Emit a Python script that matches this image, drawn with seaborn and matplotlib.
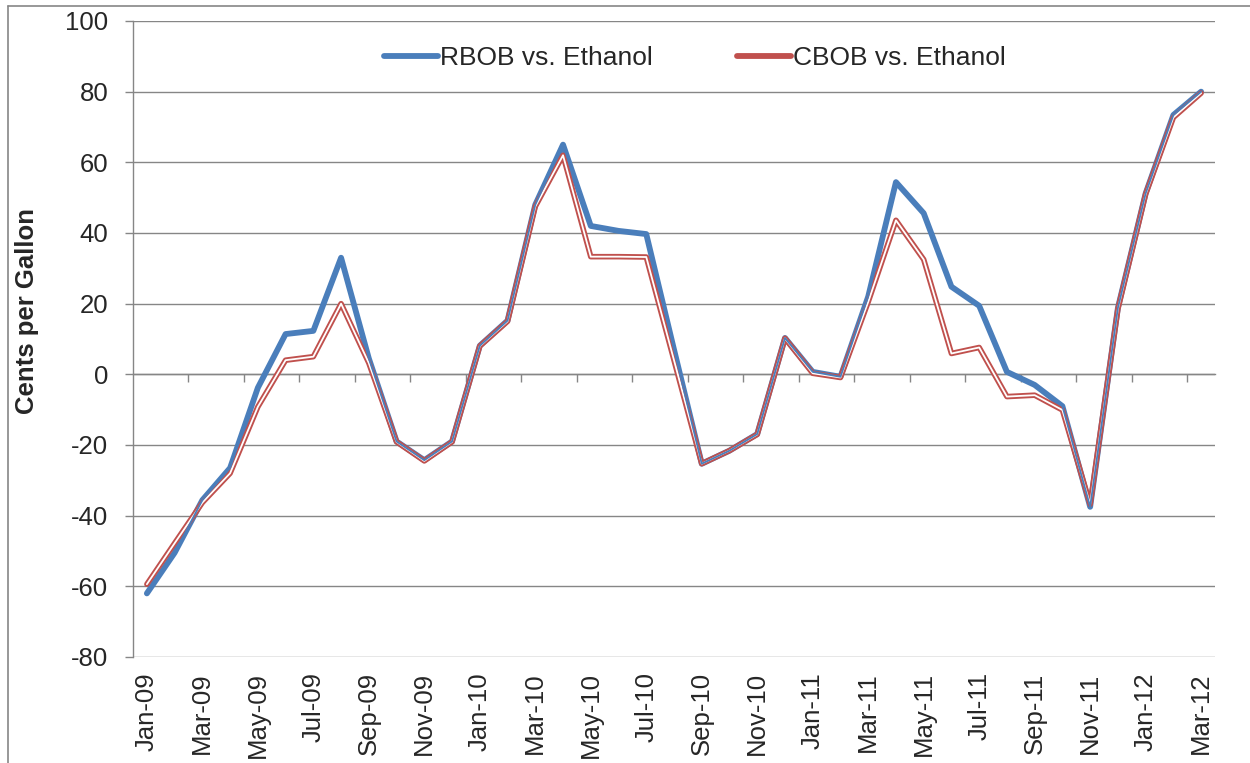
import numpy as np
import pandas as pd
import matplotlib.pyplot as plt
import seaborn as sns
from matplotlib.lines import Line2D

# monthly spreads, cents per gallon
months = pd.date_range('2009-01-01', '2012-03-01', freq='MS').strftime('%b-%y').tolist()
rbob = [-62, -50.5, -35.6, -26.5, -3.8, 11.4, 12.3, 33, 4.5, -19, -24.3, -19,
        8.1, 15.2, 48, 65, 42, 40.6, 39.7, 7, -25.3, -21.6, -16.9, 10.3,
        0.7, -0.7, 22, 54.4, 45.6, 24.8, 19.4, 0.7, -3, -9, -37.5, 18.8,
        51.2, 73.4, 80]
cbob = [-59.4, -47.8, -36.3, -28, -9.2, 4, 5, 20, 3.2, -19.1, -24.5, -19.1,
        8, 15, 47.5, 62, 33.3, 33.3, 33.2, 4, -25.3, -21.6, -17, 10.2,
        0.3, -0.9, 20.5, 43.6, 32.5, 5.9, 7.6, -6.3, -5.9, -10.1, -36.8, 18.5,
        51, 72.7, 79.6]
yticks = list(range(-80, 101, 20))

df = pd.DataFrame({'month': months, 'RBOB': rbob, 'CBOB': cbob})
df['pos'] = np.arange(len(df))

sns.set_style('white')
plt.rcParams['font.family'] = ['Liberation Sans', 'DejaVu Sans']

blue = '#4A7EBB'
red = '#C0504D'
grey = '#868686'

fig = plt.figure(figsize=(12.5, 7.63), dpi=100)
ax = fig.add_axes([133/1250, 1 - 657/763, (1215 - 133)/1250, (657 - 21)/763])

kw = dict(solid_joinstyle='round', solid_capstyle='round')
sns.lineplot(data=df, x='pos', y='RBOB', ax=ax, color=blue, lw=4.2, zorder=3, **kw)
# CBOB drawn as a double line (red outline, hollow centre)
sns.lineplot(data=df, x='pos', y='CBOB', ax=ax, color=red, lw=4.0, zorder=4, **kw)
sns.lineplot(data=df, x='pos', y='CBOB', ax=ax, color='white', lw=1.3, zorder=5, **kw)
sns.lineplot(data=df, x='pos', y='RBOB', ax=ax, color=blue, lw=1.3, zorder=6, **kw)

ax.set_xlim(-0.5, len(df) - 0.5)
ax.set_ylim(-80, 100)
ax.set_yticks(yticks)
ax.set_yticklabels([str(v) for v in yticks])
ax.set_xticks(df['pos'][::2])
ax.set_xticklabels(df['month'][::2], rotation=90)
ax.grid(axis='y', color=grey, lw=1.0)
ax.grid(axis='x', visible=False)
ax.set_axisbelow(True)
for s in ['top', 'right', 'bottom']:
    ax.spines[s].set_visible(False)
ax.spines['left'].set_color(grey)
ax.spines['left'].set_linewidth(1.0)
ax.tick_params(axis='y', left=True, length=5.8, width=1.0, color=grey,
               labelsize=18.5, pad=12)
ax.tick_params(axis='x', bottom=False, length=0, labelsize=18.5, pad=11)
ax.set_xlabel('')
ax.set_ylabel('')

# category axis crossing at zero, with ticks at every second boundary
zero_frac = (0 - (-80)) / 180
sec = ax.secondary_xaxis(zero_frac)
sec.set_xticks(np.arange(2, len(df), 2) - 0.5)
sec.tick_params(axis='x', direction='out', length=5.8, width=1.0, color=grey,
                labelbottom=False, labeltop=False)
for sp in sec.spines.values():
    sp.set_color(grey)
    sp.set_linewidth(1.0)

fig.text(27/1250, 1 - 311/763, 'Cents per Gallon', rotation=90, ha='center',
         va='center', fontsize=18.5, fontweight='bold')

handles = [Line2D([], [], color=blue, lw=4.2, solid_capstyle='round'),
           Line2D([], [], color=red, lw=4.2, solid_capstyle='round')]
fig.legend(handles, ['RBOB vs. Ethanol', 'CBOB vs. Ethanol'], ncol=2,
           loc='center', bbox_to_anchor=(695/1250, 1 - 58/763), frameon=False,
           fontsize=19, handlelength=2.05, handletextpad=0.08, columnspacing=3.2)

# chart area border
fig.add_artist(Line2D([8/1250, 1], [1 - 5.5/763] * 2, transform=fig.transFigure,
                      color=grey, lw=1.2))
fig.add_artist(Line2D([8/1250] * 2, [0, 1 - 5.5/763], transform=fig.transFigure,
                      color=grey, lw=1.2))

fig.savefig('out.png', dpi=100)
